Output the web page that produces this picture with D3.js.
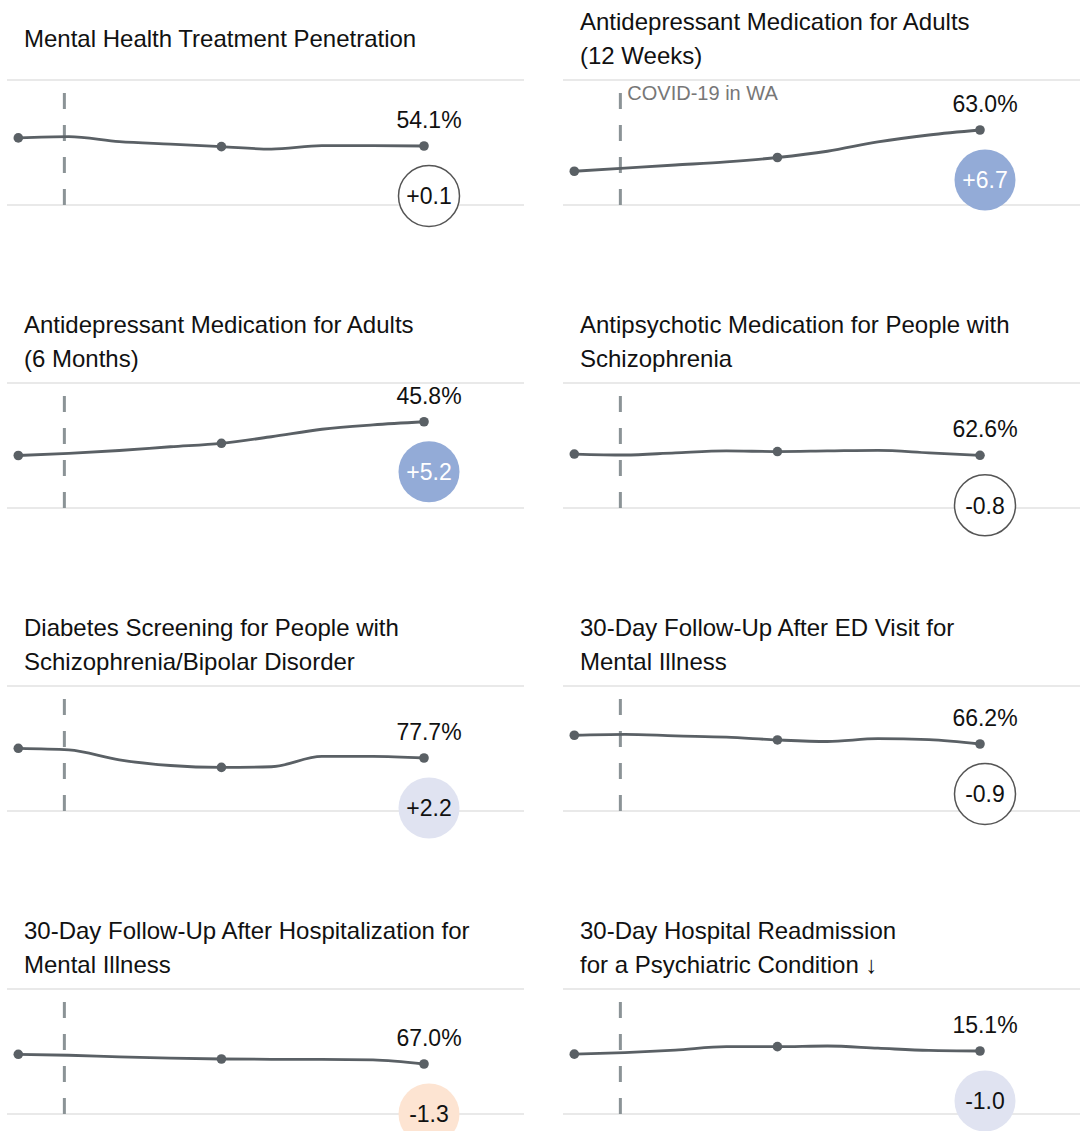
<!DOCTYPE html>
<html>
<head>
<meta charset="utf-8">
<script src="https://cdn.jsdelivr.net/npm/d3@7"></script>
<style>
  body { margin: 0; background: #fff; }
  svg { display: block; font-family: "Liberation Sans", Arial, sans-serif; }
</style>
</head>
<body>
<div id="chart"></div>
<script>
// quarterly measurement periods
const periods = ["2019-12-31", "2020-03-31", "2020-06-30", "2020-09-30", "2020-12-31",
  "2021-03-31", "2021-06-30", "2021-09-30", "2021-12-31"];
const covidDate = "2020-03-23";
const covidLabel = "COVID-19 in WA";

const titles = [
  "Mental Health Treatment Penetration",
  "Antidepressant Medication for Adults\n(12 Weeks)",
  "Antidepressant Medication for Adults\n(6 Months)",
  "Antipsychotic Medication for People with\nSchizophrenia",
  "Diabetes Screening for People with\nSchizophrenia/Bipolar Disorder",
  "30-Day Follow-Up After ED Visit for\nMental Illness",
  "30-Day Follow-Up After Hospitalization for\nMental Illness",
  "30-Day Hospital Readmission\nfor a Psychiatric Condition ↓"
];

// rates (%) per period
const treatmentPenetration = [55.4, 55.6, 54.8, 54.4, 54.0, 53.6, 54.15, 54.15, 54.1];
const antidepressant12w = [56.4, 56.9, 57.4, 57.9, 58.6, 59.6, 61.1, 62.2, 63.0];
const antidepressant6m = [40.4, 40.75, 41.2, 41.8, 42.35, 43.4, 44.6, 45.3, 45.8];
const antipsychotic = [62.8, 62.65, 63.0, 63.3, 63.2, 63.3, 63.4, 63.0, 62.6];
const diabetesScreening = [79.25, 79.0, 77.4, 76.5, 76.2, 76.3, 77.95, 77.95, 77.7];
const followUpED = [67.6, 67.75, 67.5, 67.3, 66.85, 66.6, 67.05, 66.9, 66.2];
const followUpHosp = [68.55, 68.4, 68.15, 67.95, 67.8, 67.75, 67.75, 67.65, 67.0];
const readmission = [14.6, 14.85, 15.25, 15.8, 15.8, 15.9, 15.55, 15.2, 15.1];

const seriesList = [treatmentPenetration, antidepressant12w, antidepressant6m, antipsychotic,
  diabetesScreening, followUpED, followUpHosp, readmission];

// change shown in the bubble, and how it reads
const changes = [0.1, 6.7, 5.2, -0.8, 2.2, -0.9, -1.3, -1.0];
const changeStatus = ["neutral", "sigBetter", "sigBetter", "neutral", "better", "neutral", "worse", "better"];

// centre of each panel's 20-point y window
const yMids = [54.66, 61.0, 42.0, 64.17, 79.22, 65.48, 69.0, 15.02];

const width = 1081, height = 1131;
const colStep = 556, rowStep = 303;
const panelW = 517;
const plotTop = 80, plotBottom = 205;

const bubbleFill = { neutral: "#fff", sigBetter: "#93abd7", better: "#e0e3f1", worse: "#fde4d2" };
const bubbleText = { neutral: "#111", sigBetter: "#fff", better: "#111", worse: "#111" };

const parse = d3.timeParse("%Y-%m-%d");
const dates = periods.map(parse);

const svg = d3.select("#chart")
  .append("svg")
  .attr("width", width)
  .attr("height", height);

const x = d3.scaleTime()
  .domain(d3.extent(dates))
  .range([11.3, 417]);

const fmtChange = d => (d > 0 ? "+" : d < 0 ? "-" : "") + Math.abs(d).toFixed(1);

seriesList.forEach((vals, i) => {
  const col = i % 2, row = Math.floor(i / 2);
  const g = svg.append("g")
    .attr("transform", `translate(${7 + col * colStep},${row * rowStep})`);

  const y = d3.scaleLinear()
    .domain([yMids[i] - 10, yMids[i] + 10])
    .range([plotBottom, plotTop]);

  // title, centred on the title band
  const lines = titles[i].split("\n");
  g.append("text")
    .attr("x", 17)
    .attr("font-size", 24)
    .attr("fill", "#111")
    .selectAll("tspan")
    .data(lines)
    .join("tspan")
    .attr("x", 17)
    .attr("y", (d, k) => 46.5 + (k - (lines.length - 1) / 2) * 34)
    .text(d => d);

  // grid lines
  g.selectAll("line.grid")
    .data([plotTop, plotBottom])
    .join("line")
    .attr("class", "grid")
    .attr("x1", 0)
    .attr("x2", panelW)
    .attr("y1", d => d)
    .attr("y2", d => d)
    .attr("stroke", "#e2e2e2")
    .attr("stroke-width", 1.5);

  // covid marker
  const cx = x(parse(covidDate));
  g.append("line")
    .attr("x1", cx)
    .attr("x2", cx)
    .attr("y1", plotTop + 13)
    .attr("y2", plotBottom)
    .attr("stroke", "#8b9396")
    .attr("stroke-width", 3)
    .attr("stroke-dasharray", "16,16");

  if (i === 1) {
    g.append("text")
      .attr("x", cx + 7)
      .attr("y", plotTop + 20)
      .attr("font-size", 20)
      .attr("fill", "#777")
      .text(covidLabel);
  }

  const pts = vals.map((v, k) => ({ date: dates[k], value: v }));

  g.append("path")
    .datum(pts)
    .attr("fill", "none")
    .attr("stroke", "#5a6065")
    .attr("stroke-width", 2.8)
    .attr("d", d3.line()
      .x(d => x(d.date))
      .y(d => y(d.value))
      .curve(d3.curveMonotoneX));

  g.selectAll("circle.dot")
    .data(pts.filter((d, k) => k % 4 === 0))
    .join("circle")
    .attr("class", "dot")
    .attr("cx", d => x(d.date))
    .attr("cy", d => y(d.value))
    .attr("r", 4.8)
    .attr("fill", "#5a6065");

  const last = pts[pts.length - 1];
  const lx = x(last.date) + 5, ly = y(last.value);

  g.append("text")
    .attr("x", lx)
    .attr("y", ly - 18)
    .attr("text-anchor", "middle")
    .attr("font-size", 23)
    .attr("fill", "#111")
    .text(last.value.toFixed(1) + "%");

  const status = changeStatus[i];
  g.append("circle")
    .attr("cx", lx)
    .attr("cy", ly + 50)
    .attr("r", 30.5)
    .attr("fill", bubbleFill[status])
    .attr("stroke", status === "neutral" ? "#555" : "none")
    .attr("stroke-width", 1.5);

  g.append("text")
    .attr("x", lx)
    .attr("y", ly + 50)
    .attr("dy", "0.36em")
    .attr("text-anchor", "middle")
    .attr("font-size", 23)
    .attr("fill", bubbleText[status])
    .text(fmtChange(changes[i]));
});
</script>
</body>
</html>
